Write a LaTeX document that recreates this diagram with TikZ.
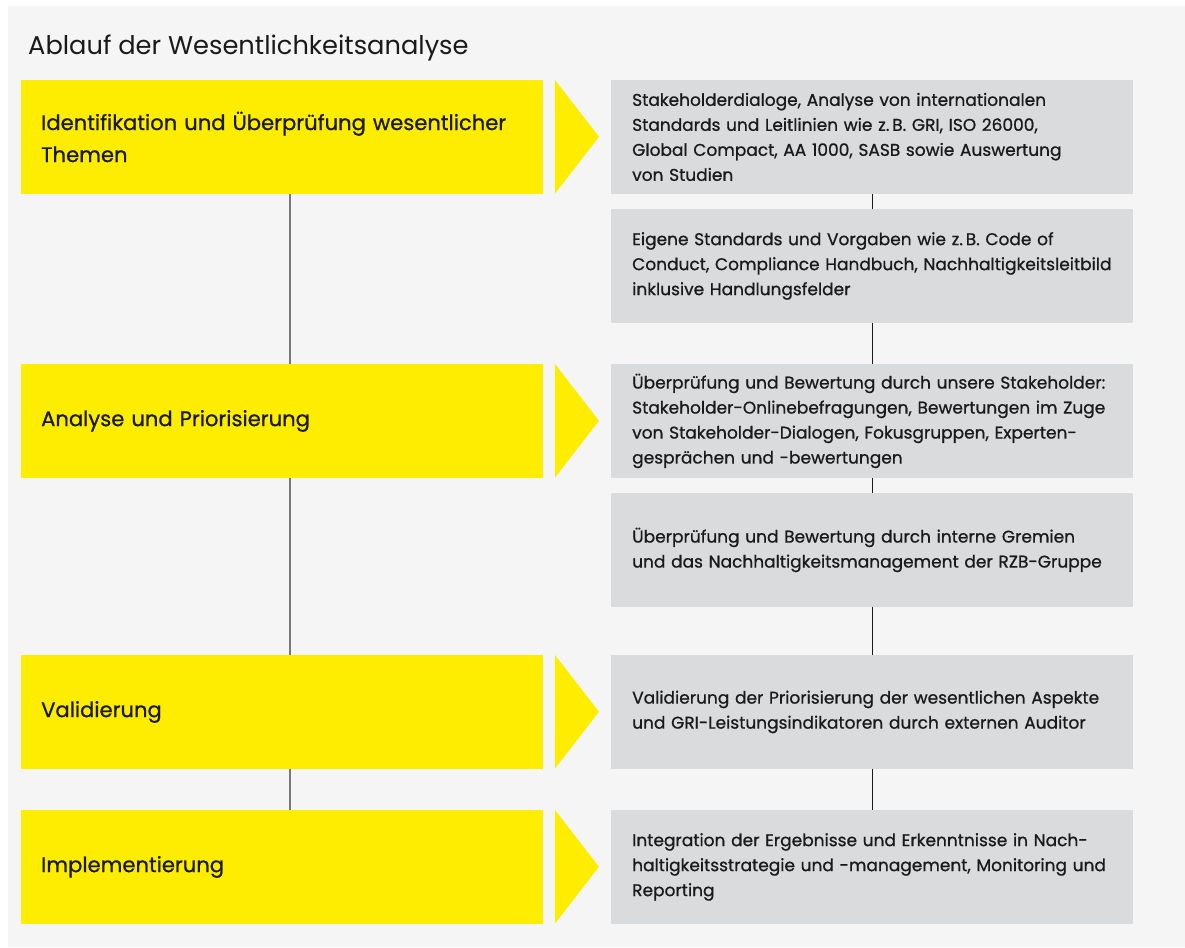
\documentclass[tikz,border=0pt]{standalone}
\usepackage{fontspec}
\setmainfont{Poppins}
\newfontfamily\boxfont{Poppins}[FakeBold=0.8]
\definecolor{bgpanel}{HTML}{F5F5F5}
\definecolor{ylw}{HTML}{FFED00}
\definecolor{gbx}{HTML}{DADBDD}
\definecolor{lgray}{HTML}{7A7A7A}
\definecolor{txt}{HTML}{1A1A1A}
\begin{document}
\begin{tikzpicture}[x=1pt,y=-1pt,
  ybox/.style={fill=ylw, draw=none, minimum width=522pt, minimum height=113.5pt,
    text width=482pt, inner xsep=20pt, inner ysep=0pt, align=left, anchor=north west,
    text=txt, font=\boxfont\fontsize{21.1}{32}\selectfont},
  gbox/.style={fill=gbx, draw=none, minimum width=522pt, minimum height=113.5pt,
    text width=480pt, inner xsep=21pt, inner ysep=0pt, align=left, anchor=north west,
    text=txt, font=\boxfont\fontsize{17}{25}\selectfont},
  tri/.style={fill=ylw, draw=none},
  lline/.style={draw=lgray, line width=2pt},
  rline/.style={draw=txt, line width=1pt}]
\useasboundingbox (0,0) rectangle (1185,947);
\fill[white] (0,0) rectangle (1185,947);
\fill[bgpanel] (8,6) rectangle (1185,947);
\node[anchor=base west, inner sep=0pt, text=txt, font=\fontsize{25.7}{32}\selectfont] (title) at (28,55) {Ablauf der Wesentlichkeitsanalyse};
% yellow boxes
\node[ybox] (y1) at (21,80) {Identifikation und Überprüfung wesentlicher\\Themen};
\node[ybox] (y2) at (21,364) {Analyse und Priorisierung};
\node[ybox] (y3) at (21,655) {Validierung};
\node[ybox] (y4) at (21,810) {Implementierung};
% triangles
\foreach \t in {80,364,655,810}{
  \fill[tri] (555,\t) -- (599,\t+56.75) -- (555,\t+113.5) -- cycle;
}
% gray boxes
\node[gbox] (g1) at (611,80) {Stakeholderdialoge, Analyse von internationalen\\Standards und Leitlinien wie z.\,B. GRI, ISO 26000,\\Global Compact, AA 1000, SASB sowie Auswertung\\von Studien};
\node[gbox] (g2) at (611,209) {Eigene Standards und Vorgaben wie z.\,B. Code of\\Conduct, Compliance Handbuch, Nachhaltigkeitsleitbild\\inklusive Handlungsfelder};
\node[gbox] (g3) at (611,364) {Überprüfung und Bewertung durch unsere Stakeholder:\\Stakeholder-Onlinebefragungen, Bewertungen im Zuge\\von Stakeholder-Dialogen, Fokusgruppen, Experten-\\gesprächen und -bewertungen};
\node[gbox] (g4) at (611,493) {Überprüfung und Bewertung durch interne Gremien\\und das Nachhaltigkeitsmanagement der RZB-Gruppe};
\node[gbox] (g5) at (611,655) {Validierung der Priorisierung der wesentlichen Aspekte\\und GRI-Leistungsindikatoren durch externen Auditor};
\node[gbox] (g6) at (611,810) {Integration der Ergebnisse und Erkenntnisse in Nach-\\haltigkeitsstrategie und -management, Monitoring und\\Reporting};
% left connectors
\draw[lline] ([xshift=269pt]y1.south west) -- ([xshift=269pt]y2.north west);
\draw[lline] ([xshift=269pt]y2.south west) -- ([xshift=269pt]y3.north west);
\draw[lline] ([xshift=269pt]y3.south west) -- ([xshift=269pt]y4.north west);
% right connectors
\draw[rline] (g1.south) -- (g2.north);
\draw[rline] (g2.south) -- (g3.north);
\draw[rline] (g3.south) -- (g4.north);
\draw[rline] (g4.south) -- (g5.north);
\draw[rline] (g5.south) -- (g6.north);
\end{tikzpicture}
\end{document}
